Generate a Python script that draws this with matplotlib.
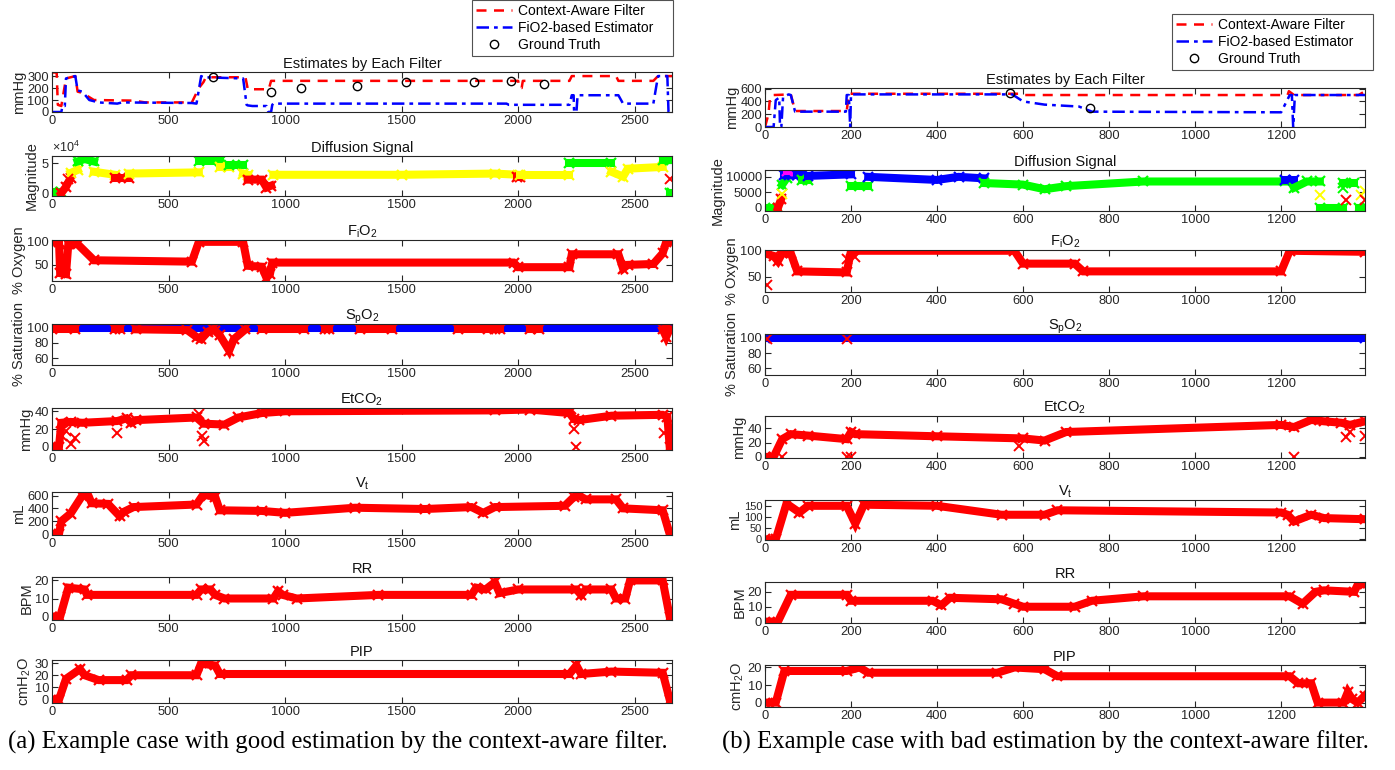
import matplotlib
matplotlib.use('Agg')
import matplotlib.pyplot as plt
from matplotlib.lines import Line2D

plt.rcParams['font.family'] = ['Liberation Sans', 'DejaVu Sans']
plt.rcParams['mathtext.default'] = 'regular'

RED = '#ff0000'
BLUE = '#0000ff'
GREEN = '#00ff00'
YELLOW = '#ffff00'
MAGENTA = '#ff00ff'

# ---------------- case (a): good estimation ----------------
a_xmax = 2660

a_ca_x = [0, 20, 25, 40, 60, 100, 110, 130, 180, 350, 400, 600, 630, 650, 660, 830, 840, 930, 940, 2000, 2005, 2015, 2020, 2220, 2230, 2420, 2430, 2580, 2600, 2660]
a_ca_y = [330, 330, 60, 50, 280, 300, 170, 160, 100, 95, 80, 80, 200, 250, 290, 290, 190, 190, 260, 260, 200, 200, 260, 260, 300, 300, 260, 260, 300, 300]
a_fe_x = [0, 40, 45, 55, 60, 100, 110, 130, 160, 200, 280, 300, 600, 620, 640, 650, 820, 835, 840, 860, 920, 928, 940, 945, 950, 1950, 1960, 2220, 2230, 2238, 2240, 2250, 2255, 2430, 2450, 2580, 2600, 2640, 2645, 2660]
a_fe_y = [0, 0, 50, 50, 280, 300, 180, 170, 100, 80, 70, 80, 75, 70, 300, 290, 280, 60, 55, 50, 50, 0, 0, 60, 70, 70, 60, 60, 140, 140, 0, 0, 140, 140, 70, 70, 300, 300, 0, 0]
a_gt_x = [690, 940, 1070, 1310, 1520, 1810, 1970, 2110]
a_gt_y = [290, 170, 200, 220, 250, 250, 260, 235]

# diffusion signal, one list per coloured run
a_dif_runs = [
    (GREEN, [0, 40], [1000, 1000]),
    (RED, [40, 60, 80], [0, 10000, 25000]),
    (YELLOW, [80, 110], [33000, 38000]),
    (GREEN, [110, 140, 180], [52000, 56000, 52000]),
    (YELLOW, [180, 270], [35000, 30000]),
    (RED, [270, 330], [25000, 25000]),
    (YELLOW, [330, 630], [32000, 34000]),
    (GREEN, [630, 720], [53000, 53000]),
    (YELLOW, [720, 760], [43000, 43000]),
    (GREEN, [760, 820], [46000, 46000]),
    (YELLOW, [820, 840], [32000, 30000]),
    (RED, [840, 900, 920, 940], [22000, 22000, 9000, 12000]),
    (YELLOW, [950, 1500, 1900, 2000], [30000, 30000, 32000, 30000]),
    (RED, [1995, 2010], [27000, 27000]),
    (YELLOW, [2010, 2220], [29000, 29000]),
    (GREEN, [2220, 2400], [50000, 50000]),
    (YELLOW, [2400, 2450, 2470, 2620], [35000, 27000, 40000, 43000]),
    (GREEN, [2620, 2650], [55000, 55000]),
    (GREEN, [2650, 2660], [0, 0]),
]
a_dif_odd_x = [70, 2650]
a_dif_odd_y = [23000, 23000]

a_fio2_x = [0, 30, 35, 60, 70, 110, 180, 600, 630, 820, 840, 900, 920, 935, 945, 1980, 2000, 2220, 2230, 2430, 2450, 2470, 2580, 2620, 2635, 2660]
a_fio2_y = [100, 100, 32, 30, 95, 95, 60, 57, 100, 100, 48, 46, 22, 30, 55, 55, 45, 45, 73, 73, 42, 50, 52, 75, 100, 100]

a_spo2_x = [0, 2660]
a_spo2_y = [100, 100]
a_spo2_red = [
    ([0, 100], [98, 98]),
    ([270, 290], [98, 98]),
    ([360, 580, 620, 640, 670, 690], [98, 97, 88, 85, 95, 98]),
    ([700, 720, 760, 780, 830], [96, 90, 70, 85, 98]),
    ([900, 1080], [98, 98]),
    ([1170, 1190], [98, 98]),
    ([1320, 1460], [98, 98]),
    ([1740, 1870], [98, 98]),
    ([1900, 1920], [98, 98]),
    ([2050, 2090], [98, 98]),
    ([2620, 2635, 2650], [98, 88, 98]),
]

a_etco2_x = [0, 30, 40, 80, 130, 280, 320, 340, 360, 620, 650, 740, 800, 900, 1000, 1900, 2050, 2220, 2240, 2260, 2400, 2620, 2640, 2650, 2660]
a_etco2_y = [0, 0, 27, 28, 27, 29, 32, 27, 30, 33, 26, 25, 33, 38, 40, 41, 42, 38, 31, 30, 35, 36, 34, 0, 0]
a_etco2_odd_x = [45, 60, 80, 100, 280, 630, 645, 650, 2225, 2240, 2250, 2625]
a_etco2_odd_y = [12, 18, 3, 10, 15, 37, 12, 6, 43, 20, 0, 16]

a_vt_x = [0, 30, 40, 80, 130, 150, 170, 240, 290, 310, 350, 620, 650, 670, 700, 720, 900, 1000, 1300, 1600, 1800, 1850, 1900, 2200, 2240, 2260, 2290, 2420, 2450, 2620, 2650, 2660]
a_vt_y = [0, 0, 200, 320, 600, 650, 480, 470, 280, 350, 420, 460, 620, 600, 580, 370, 360, 330, 410, 390, 420, 330, 420, 440, 580, 600, 540, 540, 400, 370, 0, 0]

a_rr_x = [0, 35, 70, 140, 150, 620, 640, 680, 700, 740, 950, 970, 990, 1050, 1400, 1800, 1820, 1860, 1900, 1920, 2000, 2250, 2270, 2290, 2400, 2420, 2460, 2480, 2620, 2650, 2660]
a_rr_y = [0, 0, 16, 15, 12, 12, 15, 15, 12, 10, 10, 14, 12, 10, 12, 12, 16, 15, 19, 13, 15, 15, 12, 15, 15, 10, 10, 20, 20, 0, 0]

a_pip_x = [0, 30, 60, 120, 140, 200, 320, 340, 620, 640, 660, 700, 720, 2220, 2250, 2270, 2400, 2620, 2650, 2660]
a_pip_y = [0, 0, 17, 25, 20, 16, 16, 20, 20, 30, 29, 28, 21, 21, 28, 21, 23, 22, 0, 0]

# ---------------- case (b): bad estimation ----------------
b_xmax = 1395

b_ca_x = [0, 8, 12, 20, 60, 70, 190, 195, 600, 605, 1215, 1218, 1230, 1380, 1395]
b_ca_y = [0, 200, 480, 500, 510, 250, 250, 520, 520, 500, 500, 560, 500, 500, 560]
b_fe_x = [0, 20, 25, 33, 35, 38, 42, 55, 60, 70, 188, 190, 195, 198, 200, 575, 600, 650, 730, 760, 1200, 1220, 1225, 1228, 1232, 1395]
b_fe_y = [0, 0, 420, 460, 0, 0, 470, 510, 500, 240, 240, 500, 500, 0, 510, 510, 400, 350, 320, 240, 230, 500, 500, 0, 500, 500]
b_gt_x = [570, 755]
b_gt_y = [530, 290]

b_dif_runs = [
    (GREEN, [0, 30], [0, 0]),
    (RED, [30, 38], [0, 3000]),
    (GREEN, [40, 50], [7500, 9500]),
    (BLUE, [45, 55], [10500, 10500]),
    (MAGENTA, [52, 75], [12000, 12000]),
    (BLUE, [75, 85], [10500, 10500]),
    (GREEN, [85, 100], [9000, 9000]),
    (BLUE, [100, 200], [10300, 10800]),
    (GREEN, [200, 240], [7000, 7000]),
    (BLUE, [240, 400, 450, 510], [10000, 9000, 10000, 9500]),
    (GREEN, [510, 600, 650, 700, 880, 1210], [8000, 7500, 6000, 7000, 8500, 8500]),
    (BLUE, [1210, 1230], [9000, 9000]),
    (GREEN, [1230, 1260, 1290], [6500, 8500, 8500]),
    (GREEN, [1290, 1345], [0, 0]),
    (GREEN, [1345, 1370], [8000, 8000]),
    (GREEN, [1380, 1395], [0, 0]),
]
b_dif_odd_x = [40, 1290, 1385, 1395, 1350, 1395, 1345]
b_dif_odd_y = [4500, 4000, 4000, 5500, 2500, 2500, 6500]
b_dif_odd_c = [YELLOW, YELLOW, YELLOW, YELLOW, RED, RED, GREEN]

b_fio2_x = [0, 20, 30, 40, 60, 75, 190, 200, 580, 600, 720, 740, 1200, 1220, 1395]
b_fio2_y = [95, 90, 80, 95, 95, 60, 58, 100, 100, 75, 75, 60, 60, 100, 98]
b_fio2_odd_x = [5, 190, 210]
b_fio2_odd_y = [33, 85, 88]

b_spo2_x = [0, 1395]
b_spo2_y = [100, 100]
b_spo2_odd_x = [5, 190]
b_spo2_odd_y = [98, 98]

b_etco2_x = [0, 20, 40, 60, 100, 190, 200, 210, 400, 600, 650, 700, 1200, 1230, 1270, 1300, 1340, 1360, 1395]
b_etco2_y = [0, 0, 25, 32, 30, 25, 35, 32, 29, 26, 23, 35, 45, 42, 52, 50, 48, 45, 50]
b_etco2_odd_x = [40, 190, 200, 590, 1230, 1350, 1360, 1395]
b_etco2_odd_y = [0, 0, 0, 16, 0, 28, 35, 30]

b_vt_x = [0, 25, 50, 80, 100, 190, 210, 230, 400, 550, 650, 680, 1200, 1215, 1230, 1270, 1300, 1395]
b_vt_y = [0, 0, 160, 120, 150, 150, 70, 155, 150, 110, 110, 130, 120, 110, 80, 110, 95, 90]

b_rr_x = [0, 30, 60, 190, 200, 390, 410, 430, 550, 580, 600, 720, 760, 880, 1220, 1250, 1280, 1300, 1370, 1380, 1395]
b_rr_y = [0, 0, 18, 18, 14, 14, 11, 16, 15, 12, 10, 10, 14, 17, 17, 12, 20, 21, 20, 26, 25]

b_pip_x = [0, 25, 45, 190, 220, 240, 540, 580, 650, 680, 1220, 1240, 1270, 1285, 1345, 1355, 1365, 1378, 1395]
b_pip_y = [0, 0, 18, 18, 20, 17, 17, 20, 19, 15, 15, 11, 11, 0, 0, 6, 2, 0, 4]

titles = ['Estimates by Each Filter', 'Diffusion Signal', 'F$_i$O$_2$', 'S$_p$O$_2$',
          'EtCO$_2$', 'V$_t$', 'RR', 'PIP']
ylabels = ['mmHg', 'Magnitude', '% Oxygen', '% Saturation', 'mmHg', 'mL', 'BPM', 'cmH$_2$O']

W, H = 1395.0, 770.0
fig = plt.figure(figsize=(13.95, 7.7), dpi=100)

# axes boxes in pixels: (top, bottom)
a_rows = [(72, 112), (156, 196), (240, 281), (324, 365), (408, 450), (492, 535), (577, 620), (660, 703)]
b_rows = [(88, 127), (170, 211), (250, 292), (334, 375), (416, 458), (500, 540), (582, 623), (665, 707)]


def make_axes(x0, x1, rows):
    out = []
    for top, bot in rows:
        ax = fig.add_axes([x0 / W, 1 - bot / H, (x1 - x0) / W, (bot - top) / H])
        out.append(ax)
    return out


axa = make_axes(52, 672, a_rows)
axb = make_axes(765, 1365, b_rows)


def band(ax, x, y, c=RED):
    ax.plot(x, y, color=c, lw=5.8, marker='x', ms=7, mew=1.6, solid_joinstyle='miter')


def odd(ax, x, y, c=RED):
    ax.plot(x, y, ls='none', color=c, marker='x', ms=7, mew=1.4)


def style(ax, i, xmax, xticks):
    ax.set_xlim(0, xmax)
    ax.set_xticks(xticks)
    ax.set_title(titles[i], fontsize=10.5, pad=3, color='#111111')
    ax.set_ylabel(ylabels[i], fontsize=10.5, labelpad=1, color='#262626')
    ax.tick_params(direction='in', top=True, right=True, labelsize=9.3, length=4,
                   colors='#262626', pad=2)
    for s in ax.spines.values():
        s.set_color('#262626')
        s.set_linewidth(0.8)


# ---- case (a)
ax = axa[0]
ax.plot(a_ca_x, a_ca_y, color=RED, ls=(0, (4, 3)), lw=1.8)
ax.plot(a_fe_x, a_fe_y, color=BLUE, ls=(0, (5, 2, 1.5, 2)), lw=1.8)
ax.plot(a_gt_x, a_gt_y, ls='none', marker='o', mfc='none', mec='black', ms=6)
ax.set_ylim(0, 334)
ax.set_yticks([0, 100, 200, 300])

ax = axa[1]
for c, xs, ys in a_dif_runs:
    band(ax, xs, ys, c)
odd(ax, a_dif_odd_x, a_dif_odd_y)
ax.set_ylim(-5000, 61000)
ax.set_yticks([0, 50000])
ax.ticklabel_format(axis='y', style='sci', scilimits=(4, 4), useMathText=True)
ax.yaxis.get_offset_text().set_fontsize(9)

ax = axa[2]
band(ax, a_fio2_x, a_fio2_y)
ax.set_ylim(15, 104)
ax.set_yticks([50, 100])

ax = axa[3]
band(ax, a_spo2_x, a_spo2_y, BLUE)
for xs, ys in a_spo2_red:
    band(ax, xs, ys)
ax.set_ylim(51, 105)
ax.set_yticks([60, 80, 100])

ax = axa[4]
band(ax, a_etco2_x, a_etco2_y)
odd(ax, a_etco2_odd_x, a_etco2_odd_y)
ax.set_ylim(-3.7, 43.7)
ax.set_yticks([0, 20, 40])

ax = axa[5]
band(ax, a_vt_x, a_vt_y)
ax.set_ylim(-15, 655)
ax.set_yticks([0, 200, 400, 600])

ax = axa[6]
band(ax, a_rr_x, a_rr_y)
ax.set_ylim(-1.9, 21.9)
ax.set_yticks([0, 10, 20])

ax = axa[7]
band(ax, a_pip_x, a_pip_y)
ax.set_ylim(-2.8, 32.5)
ax.set_yticks([0, 10, 20, 30])

for i, ax in enumerate(axa):
    style(ax, i, a_xmax, [0, 500, 1000, 1500, 2000, 2500])

# ---- case (b)
ax = axb[0]
ax.plot(b_ca_x, b_ca_y, color=RED, ls=(0, (4, 3)), lw=1.8)
ax.plot(b_fe_x, b_fe_y, color=BLUE, ls=(0, (5, 2, 1.5, 2)), lw=1.8)
ax.plot(b_gt_x, b_gt_y, ls='none', marker='o', mfc='none', mec='black', ms=6)
ax.set_ylim(0, 610)
ax.set_yticks([0, 200, 400, 600])

ax = axb[1]
for c, xs, ys in b_dif_runs:
    band(ax, xs, ys, c)
for x, y, c in zip(b_dif_odd_x, b_dif_odd_y, b_dif_odd_c):
    odd(ax, [x], [y], c)
ax.set_ylim(-1000, 12200)
ax.set_yticks([0, 5000, 10000])

ax = axb[2]
band(ax, b_fio2_x, b_fio2_y)
odd(ax, b_fio2_odd_x, b_fio2_odd_y)
ax.set_ylim(20, 101.5)
ax.set_yticks([50, 100])

ax = axb[3]
band(ax, b_spo2_x, b_spo2_y, BLUE)
odd(ax, b_spo2_odd_x, b_spo2_odd_y)
ax.set_ylim(51.5, 105)
ax.set_yticks([60, 80, 100])

ax = axb[4]
band(ax, b_etco2_x, b_etco2_y)
odd(ax, b_etco2_odd_x, b_etco2_odd_y)
ax.set_ylim(-1.5, 57.5)
ax.set_yticks([0, 20, 40])

ax = axb[5]
band(ax, b_vt_x, b_vt_y)
ax.set_ylim(-3, 176)
ax.set_yticks([0, 50, 100, 150])

ax = axb[6]
band(ax, b_rr_x, b_rr_y)
ax.set_ylim(-0.9, 26.6)
ax.set_yticks([0, 10, 20])

ax = axb[7]
band(ax, b_pip_x, b_pip_y)
ax.set_ylim(-2.5, 21.4)
ax.set_yticks([0, 10, 20])

for i, ax in enumerate(axb):
    style(ax, i, b_xmax, [0, 200, 400, 600, 800, 1000, 1200])
axb[5].tick_params(axis='y', labelsize=8)

# legends
handles = [Line2D([], [], color=RED, ls=(0, (4, 3)), lw=1.8),
           Line2D([], [], color=BLUE, ls=(0, (5, 2, 1.5, 2)), lw=1.8),
           Line2D([], [], ls='none', marker='o', mfc='none', mec='black', ms=6)]
names = ['Context-Aware Filter', 'FiO2-based Estimator    ', 'Ground Truth']
for (x1, y0) in [(673, 0), (1373, 14)]:
    leg = fig.legend(handles, names, loc='upper right', bbox_to_anchor=(x1 / W, 1 - y0 / H),
                     fontsize=10, frameon=True, fancybox=False, edgecolor='#262626',
                     handlelength=2.6, borderpad=0.3, labelspacing=0.2, handletextpad=0.4,
                     borderaxespad=0)
    leg.get_frame().set_linewidth(0.8)

# captions
fig.text(338 / W, 1 - 742 / H, '(a) Example case with good estimation by the context-aware filter.',
         ha='center', va='center', fontsize=17.8, family='Liberation Serif')
fig.text(1045 / W, 1 - 742 / H, '(b) Example case with bad estimation by the context-aware filter.',
         ha='center', va='center', fontsize=17.8, family='Liberation Serif')

fig.savefig('out.png', dpi=100)
